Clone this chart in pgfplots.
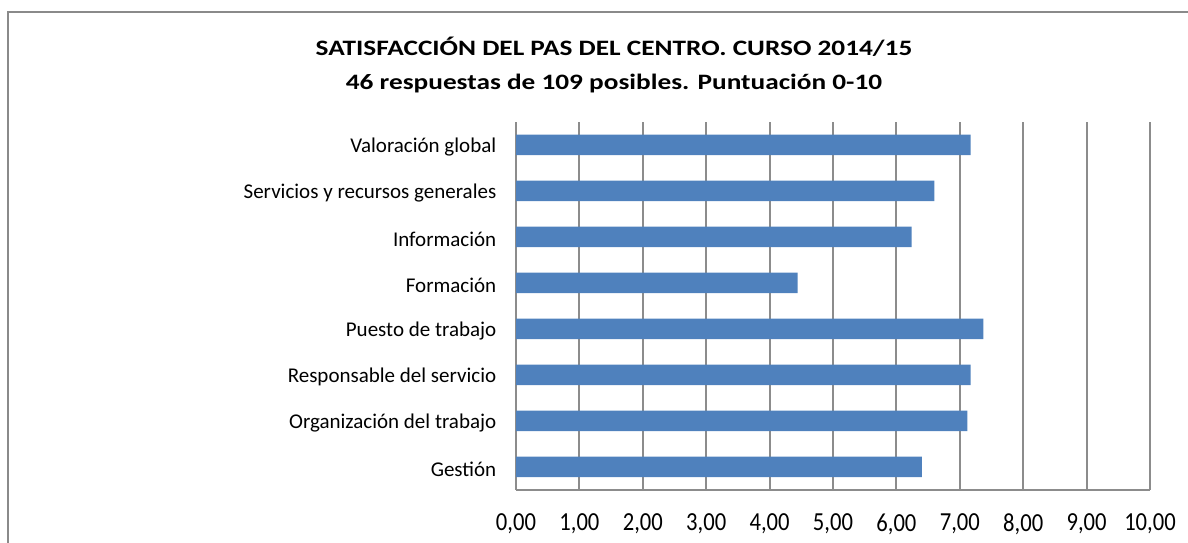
\documentclass[border=0pt]{standalone}
\usepackage{pgfplots}
\pgfplotsset{compat=1.18}
\usepackage{fontspec}
\setmainfont{Carlito}
\newfontfamily\titlefont[FakeStretch=1.24]{Carlito}
\newfontfamily\tickfont[FakeStretch=0.87]{Carlito}
\definecolor{barblue}{HTML}{4F81BD}
\definecolor{gridgray}{HTML}{8C8C8C}
\definecolor{framegray}{HTML}{8A8A8A}
\begin{document}
\begin{tikzpicture}[x=1bp,y=1bp]
\useasboundingbox (0,0) rectangle (1188,543);
\draw[framegray,line width=2bp] (8,-20) -- (8,531) -- (1210,531);
\node[align=center,font=\titlefont\fontsize{22bp}{34bp}\selectfont\bfseries] at (614,478)
  {SATISFACCIÓN DEL PAS DEL CENTRO. CURSO 2014/15\\46 respuestas de 109 posibles. Puntuación 0-10};
\begin{axis}[
  at={(516bp,53bp)}, anchor=south west,
  scale only axis, width=634bp, height=368bp,
  xbar, bar width=20.5bp,
  xmin=0, xmax=10, ymin=-0.5, ymax=7.5,
  xtick={0,1,...,10},
  ytick={0,...,7},
  yticklabels={Gestión,Organización del trabajo,Responsable del servicio,Puesto de trabajo,Formación,Información,Servicios y recursos generales,Valoración global},
  axis lines*=left,
  axis line style={gridgray,line width=2bp},
  xmajorgrids, major grid style={gridgray,line width=2bp},
  tick style={draw=none},
  xticklabel style={font=\tickfont\fontsize{26bp}{30bp}\selectfont, yshift=-20bp},
  yticklabel style={font=\fontsize{21bp}{24bp}\selectfont, xshift=-12bp, yshift=-2bp},
  /pgf/number format/.cd, fixed, fixed zerofill, precision=2, use comma, assume math mode=true,
]
\addplot[fill=barblue, draw=none] coordinates {
 (6.40,0) (7.12,1) (7.17,2) (7.37,3) (4.44,4) (6.24,5) (6.60,6) (7.17,7)};
\end{axis}
\end{tikzpicture}
\end{document}
